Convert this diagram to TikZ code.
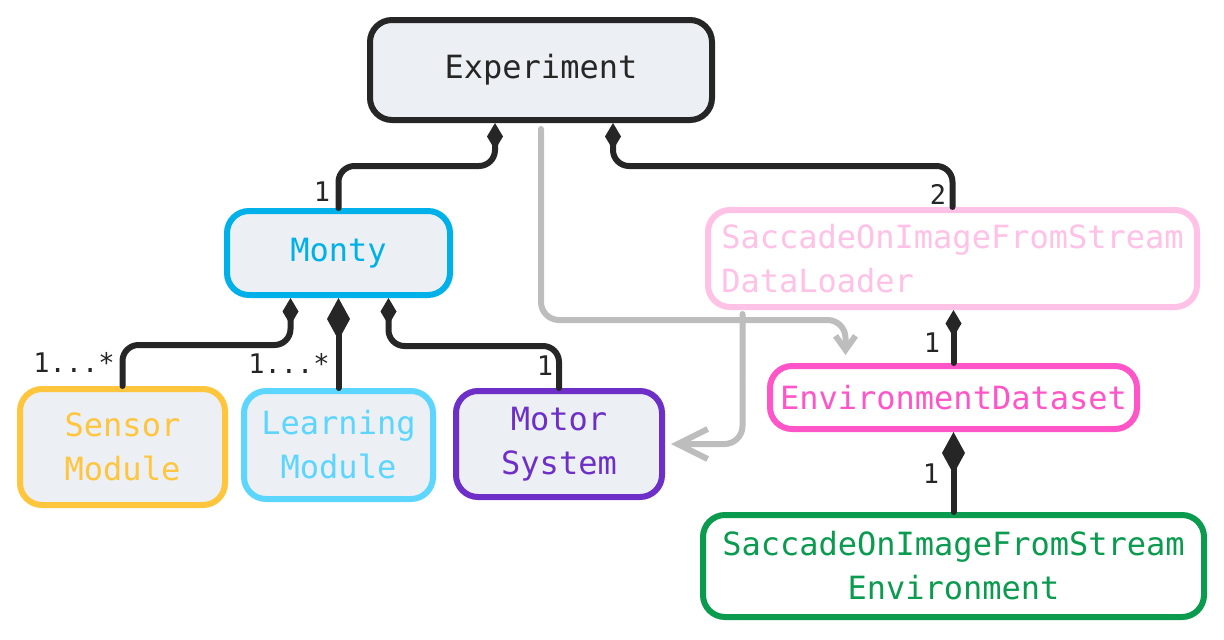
\documentclass[tikz,border=0pt]{standalone}
\usepackage{fontspec}
\setmainfont{DejaVu Sans Mono}
\usetikzlibrary{arrows.meta,calc}
\definecolor{ink}{HTML}{262626}
\definecolor{boxfill}{HTML}{ECEFF3}
\definecolor{montyc}{HTML}{00B0E8}
\definecolor{sensorc}{HTML}{FFC53D}
\definecolor{learnc}{HTML}{5CD6FF}
\definecolor{motorc}{HTML}{6D2FC8}
\definecolor{dlc}{HTML}{FFC1E6}
\definecolor{edsc}{HTML}{FF55C8}
\definecolor{envc}{HTML}{0A9B4F}
\definecolor{lgray}{HTML}{BDBDBD}
\begin{document}
\begin{tikzpicture}[x=1pt,y=-1pt,
  box/.style={rounded corners=22pt, line width=6pt, inner sep=0pt, align=center,
    font=\fontsize{32}{44}\selectfont},
  comp/.style={draw=ink, line width=6pt, rounded corners=16pt, line cap=round,
    -{Diamond[length=27pt,width=16pt]}},
  bigcomp/.style={draw=ink, line width=6pt, rounded corners=16pt, line cap=round,
    -{Diamond[length=42pt,width=23pt]}},
  assoc/.style={draw=lgray, line width=6pt, rounded corners=18pt, line cap=round},
  lbl/.style={font=\fontsize{27}{30}\selectfont, text=ink, inner sep=0pt}]
\useasboundingbox (0,0) rectangle (1224,640);

\node[box, draw=ink, fill=boxfill, text=ink, minimum width=342pt, minimum height=100pt] (Exp) at (541,70) {Experiment};
\node[box, draw=montyc, fill=boxfill, text=montyc, minimum width=223pt, minimum height=84pt] (Monty) at (338.5,253) {Monty};
\node[box, draw=dlc, fill=white, text=dlc, align=left, minimum width=489pt, minimum height=97pt] (DL) at (952.5,258.5) {SaccadeOnImageFromStream\\DataLoader};
\node[box, draw=edsc, fill=white, text=edsc, minimum width=367pt, minimum height=63pt] (EDS) at (953.5,397.5) {EnvironmentDataset};
\node[box, draw=envc, fill=white, text=envc, minimum width=501pt, minimum height=102pt] (Env) at (953.5,566) {SaccadeOnImageFromStream\\Environment};
\node[box, draw=sensorc, fill=boxfill, text=sensorc, minimum width=205pt, minimum height=116pt] (Sensor) at (122.5,447) {Sensor\\Module};
\node[box, draw=learnc, fill=boxfill, text=learnc, minimum width=189pt, minimum height=108pt] (Learn) at (338.5,445) {Learning\\Module};
\node[box, draw=motorc, fill=boxfill, text=motorc, minimum width=206pt, minimum height=106pt] (Motor) at (559,444) {Motor\\System};

% composition connectors
\draw[comp] (Monty.north) |- ($(Exp.south)+(-46,43)$) -- ([xshift=-46pt]Exp.south);
\draw[comp] (DL.north) |- ($(Exp.south)+(72,43)$) -- ([xshift=72pt]Exp.south);
\draw[comp] (Sensor.north) |- ($(Monty.south)+(-48,47)$) -- ([xshift=-48pt]Monty.south);
\draw[bigcomp] (Learn.north) -- (Monty.south);
\draw[comp] (Motor.north) |- ($(Monty.south)+(50,48)$) -- ([xshift=50pt]Monty.south);
\draw[comp] (EDS.north) -- (EDS.north |- DL.south);
\draw[bigcomp] (Env.north) -- (Env.north |- EDS.south);

% association arrows
\draw[assoc, shorten <=6pt, shorten >=8pt, -{Straight Barb[length=14pt,width=20pt]}]
  (Exp.south) |- ($(EDS.north)+(-108,-43)$) -- ([xshift=-108pt]EDS.north);
\draw[assoc, shorten <=4pt, shorten >=6pt, -{Straight Barb[length=30pt,width=30pt]}]
  ([xshift=-210pt]DL.south) |- (Motor.east);

% multiplicities
\node[lbl] (l1) at (322,192) {1};
\node[lbl] (l2) at (938,194) {2};
\node[lbl] (l3) at (932,343) {1};
\node[lbl] (l4) at (931,474) {1};
\node[lbl] (l5) at (74,362) {1...*};
\node[lbl] (l6) at (289,363) {1...*};
\node[lbl] (l7) at (545,366) {1};
\end{tikzpicture}
\end{document}
